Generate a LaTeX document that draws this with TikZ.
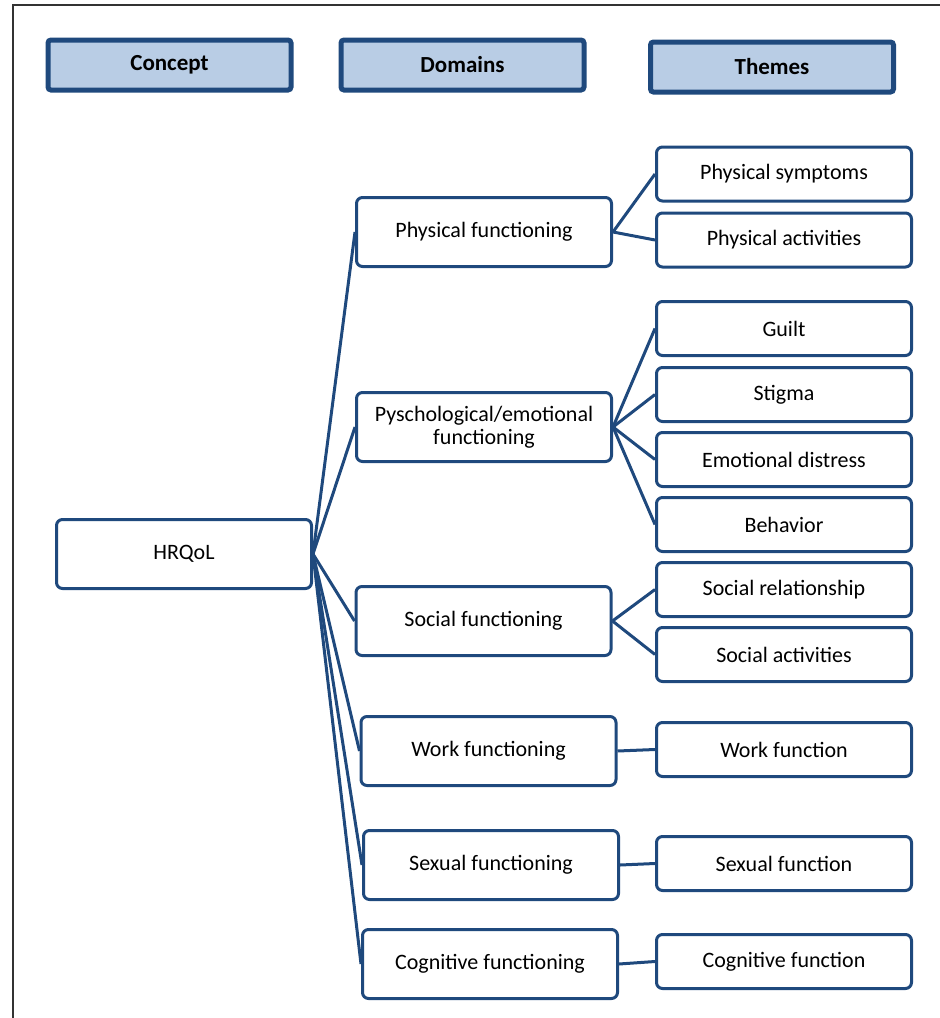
\documentclass[tikz,border=0pt]{standalone}
\usepackage{fontspec}
\setmainfont{Carlito}
\definecolor{boxblue}{HTML}{1F497D}
\definecolor{headfill}{HTML}{B9CDE5}

\begin{document}
\begin{tikzpicture}[x=1pt, y=-1pt, every node/.style={font=\fontsize{22}{23}\selectfont},
	box/.style={draw=boxblue, line width=3pt, rounded corners=6pt, fill=white, align=center, inner sep=0pt, minimum width=255pt},
	head/.style={box, fill=headfill, line width=5pt, rounded corners=3pt, minimum width=243pt, minimum height=50pt, font=\fontsize{23}{25}\selectfont\bfseries},
	link/.style={draw=boxblue, line width=3pt}]
	\useasboundingbox (0,0) rectangle (940,1018);
	\draw[line width=2pt, black!80] (940,5) -- (13,5) -- (13,1018);
	% headers
	\node[head] (concept) at (169.5,65) {Concept};
	\node[head] (domains) at (462.5,65) {Domains};
	\node[head] (themes) at (772,67) {Themes};
	% concept and domains
	\node[box, minimum height=69pt] (hrqol) at (184,554) {HRQoL};
	\foreach \n/\x/\y/\t in {phys/484/232/Physical functioning, psy/484/427/{Pyschological/emotional\\functioning}, soc/483.5/621/Social functioning, work/488.5/751/Work functioning, sex/491/865/Sexual functioning, cog/490/964/Cognitive functioning} {
		\node[box, minimum height=69pt] (\n) at (\x,\y) {\t};
		\draw[link] (hrqol.east) -- (\n.west);
	}
	% themes
	\foreach \n/\d/\y/\t in {symp/phys/174/Physical symptoms, act/phys/240/Physical activities, guilt/psy/328.5/Guilt, stigma/psy/394.5/Stigma, distress/psy/459.5/Emotional distress, behav/psy/524.5/Behavior, rel/soc/589.5/Social relationship, socact/soc/654.5/Social activities, workf/work/749.5/Work function, sexf/sex/863.5/Sexual function, cogf/cog/961.5/Cognitive function} {
		\node[box, minimum height=54pt] (\n) at (784,\y) {\t};
		\draw[link] (\d.east) -- (\n.west);
	}
\end{tikzpicture}
\end{document}
